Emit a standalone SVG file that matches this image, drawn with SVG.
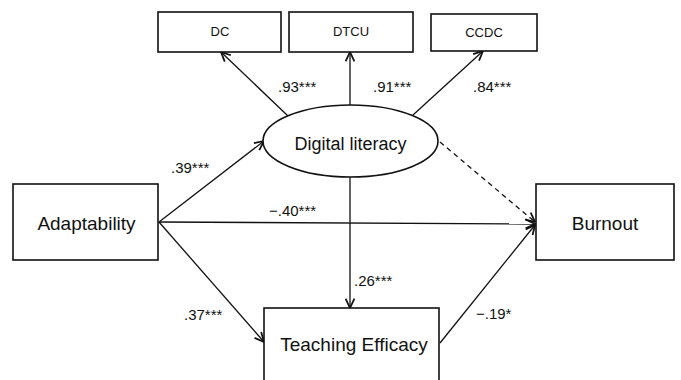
<svg xmlns="http://www.w3.org/2000/svg" width="681" height="380" viewBox="0 0 681 380">
<defs>
<marker id="arr" markerUnits="userSpaceOnUse" markerWidth="11" markerHeight="11" viewBox="0 0 10 10" refX="9.5" refY="5" orient="auto">
<path d="M1,1 L9.5,5 L1,9" fill="none" stroke="#111" stroke-width="1.6"/>
</marker>
</defs>
<style>
.box{fill:#fff;stroke:#111;stroke-width:1.6}
.lbl{font-family:"Liberation Sans",Arial,sans-serif;fill:#111}
.node{font-size:19px;text-anchor:middle}
.small{font-size:13px;text-anchor:middle}
.coef{font-size:15px}
.ln{stroke:#111;stroke-width:1.3;fill:none;marker-end:url(#arr)}
.dash{stroke-dasharray:5 4}
</style>
<rect width="681" height="380" fill="#fff"/>
<g id="connectors">
<line class="ln" x1="288" y1="116" x2="221" y2="52"/>
<line class="ln" x1="350" y1="105" x2="350" y2="52"/>
<line class="ln" x1="413" y1="115" x2="483" y2="51"/>
<line class="ln" x1="159" y1="222" x2="264" y2="141"/>
<line class="ln" x1="159" y1="222" x2="535" y2="224"/>
<line class="ln" x1="159" y1="222" x2="264" y2="342"/>
<line class="ln" x1="350" y1="177" x2="350" y2="308"/>
<line class="ln dash" x1="440" y1="142" x2="535" y2="222"/>
<line class="ln" x1="440" y1="343" x2="535" y2="225"/>
<text class="lbl coef" x="278" y="92">.93***</text>
<text class="lbl coef" x="373" y="92">.91***</text>
<text class="lbl coef" x="473" y="92">.84***</text>
<text class="lbl coef" x="171" y="173">.39***</text>
<text class="lbl coef" x="269" y="216">−.40***</text>
<text class="lbl coef" x="354" y="286">.26***</text>
<text class="lbl coef" x="184" y="320">.37***</text>
<text class="lbl coef" x="476" y="319">−.19*</text>
</g>
<g id="dc">
<rect class="box" x="158" y="12" width="123" height="40"/>
<text class="lbl small" x="220" y="36">DC</text>
</g>
<g id="dtcu">
<rect class="box" x="289" y="12" width="124" height="40"/>
<text class="lbl small" x="351" y="36">DTCU</text>
</g>
<g id="ccdc">
<rect class="box" x="431" y="14" width="106" height="37"/>
<text class="lbl small" x="484" y="37">CCDC</text>
</g>
<g id="digital-literacy">
<ellipse class="box" cx="350.5" cy="141" rx="87.5" ry="36"/>
<text class="lbl node" x="350.5" y="150" font-size="18" style="font-size:18px">Digital literacy</text>
</g>
<g id="adaptability">
<rect class="box" x="13" y="184" width="145" height="76"/>
<text class="lbl node" x="86.5" y="230">Adaptability</text>
</g>
<g id="burnout">
<rect class="box" x="536" y="184" width="138" height="76"/>
<text class="lbl node" x="605" y="230">Burnout</text>
</g>
<g id="teaching-efficacy">
<rect class="box" x="264" y="308" width="175" height="90"/>
<text class="lbl node" x="354" y="351">Teaching Efficacy</text>
</g>
</svg>
